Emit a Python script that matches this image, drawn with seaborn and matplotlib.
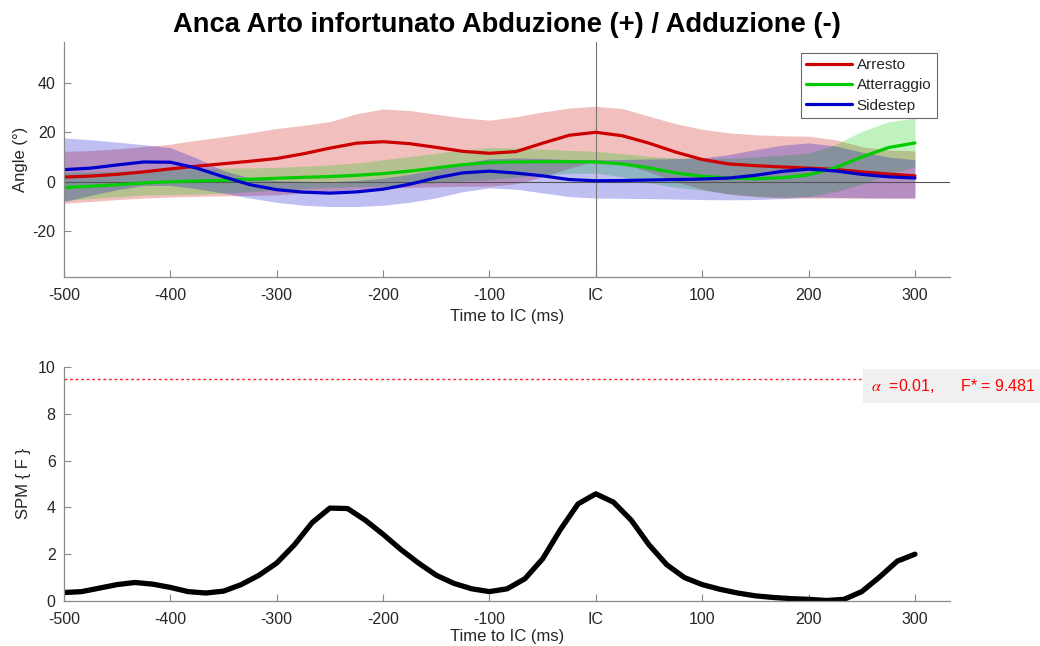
import numpy as np
import pandas as pd
import matplotlib
matplotlib.use("Agg")
import matplotlib.pyplot as plt
import seaborn as sns

# Time axis (ms relative to initial contact) for the angle curves
time_ms = list(range(-500, 301, 25))

# Arresto: mean and band limits (deg)
arresto_mean = [1.9, 2.3, 3.0, 4.0, 5.2, 6.3, 7.3, 8.3, 9.4, 11.3, 13.6, 15.6, 16.2,
                15.4, 13.9, 12.3, 11.5, 12.2, 15.6, 18.8, 20.0, 18.6, 15.6, 12.0, 9.0,
                7.2, 6.5, 6.0, 5.5, 5.0, 4.0, 3.1, 2.4]
arresto_upper = [12.3, 12.6, 13.3, 14.2, 15.2, 16.8, 18.2, 19.8, 21.5, 22.8, 24.3, 27.5,
                 29.4, 28.8, 27.3, 25.8, 24.9, 26.3, 28.2, 29.8, 30.5, 29.6, 26.5, 23.5,
                 21.2, 19.8, 19.0, 18.6, 18.4, 17.0, 14.2, 12.8, 12.5]
arresto_lower = [-8.7, -8.0, -7.2, -6.6, -6.2, -5.9, -5.7, -5.5, -5.3, -4.6, -3.8, -3.0,
                 -2.6, -2.3, -2.0, -1.8, -1.8, -0.8, 2.0, 5.5, 8.5, 7.5, 4.0, 0.0, -3.0,
                 -5.0, -6.0, -6.5, -6.6, -6.6, -6.6, -6.6, -6.6]

# Atterraggio
atterraggio_mean = [-2.3, -1.8, -1.2, -0.5, 0.0, 0.3, 0.6, 1.0, 1.4, 1.8, 2.1, 2.6, 3.3,
                    4.3, 5.6, 6.9, 7.8, 8.0, 8.1, 8.1, 8.0, 7.2, 5.6, 3.6, 2.2, 1.5, 1.2,
                    1.6, 2.8, 5.6, 10.0, 13.8, 15.7]
atterraggio_upper = [3.7, 4.0, 4.3, 4.7, 5.0, 5.3, 5.5, 5.6, 5.8, 6.3, 6.8, 7.6, 8.9, 10.2,
                     11.6, 12.9, 13.8, 13.7, 13.2, 12.7, 12.3, 11.4, 10.3, 9.6, 9.4, 9.5,
                     10.0, 10.8, 11.6, 15.0, 20.4, 24.2, 25.8]
atterraggio_lower = [-7.5, -6.8, -6.0, -5.4, -5.2, -5.0, -4.6, -4.0, -3.4, -2.8, -2.3, -2.0,
                     -1.8, -1.2, -0.4, 0.3, 0.8, 1.8, 2.8, 3.4, 3.5, 2.0, -0.5, -2.2, -3.4,
                     -4.8, -5.8, -6.1, -6.0, -4.0, -1.0, 3.0, 6.0]

# Sidestep
sidestep_mean = [4.9, 5.5, 6.8, 8.0, 7.9, 5.5, 2.0, -1.2, -3.2, -4.2, -4.6, -4.1, -3.0,
                 -1.0, 1.6, 3.6, 4.3, 3.5, 2.4, 0.9, 0.4, 0.5, 0.7, 0.9, 1.1, 1.5, 2.6,
                 4.2, 5.1, 4.4, 3.0, 2.0, 1.5]
sidestep_upper = [17.7, 17.0, 16.0, 15.0, 13.8, 9.5, 4.5, 1.5, 0.5, 0.2, 0.0, 0.5, 1.5, 3.0,
                  5.0, 7.5, 9.3, 9.6, 9.4, 9.0, 8.9, 9.0, 9.2, 9.4, 9.6, 11.0, 13.0, 14.8,
                  15.7, 14.5, 12.0, 10.0, 8.9]
sidestep_lower = [-8.0, -5.5, -3.2, -1.5, -1.5, -2.8, -4.6, -6.6, -8.3, -9.5, -10.0, -10.0,
                  -9.5, -8.3, -6.5, -4.0, -2.5, -3.0, -4.5, -6.0, -6.6, -6.7, -6.8, -7.0,
                  -7.2, -7.3, -7.2, -6.8, -6.2, -6.3, -6.5, -6.6, -6.6]

# SPM{F} statistic, 49 nodes from -500 to 300 ms
spm_time = np.linspace(-500, 300, 49)
spm_f = [0.36, 0.40, 0.55, 0.70, 0.79, 0.72, 0.58, 0.40, 0.34, 0.42, 0.70, 1.10, 1.62,
         2.40, 3.35, 3.97, 3.95, 3.45, 2.85, 2.20, 1.62, 1.10, 0.75, 0.52, 0.40, 0.52,
         0.95, 1.80, 3.05, 4.15, 4.58, 4.22, 3.45, 2.40, 1.55, 1.00, 0.70, 0.50, 0.34,
         0.22, 0.15, 0.10, 0.07, 0.02, 0.07, 0.40, 1.02, 1.70, 2.00]
alpha_level = 0.01
f_critical = 9.481

x_ticks = [-500, -400, -300, -200, -100, 0, 100, 200, 300]
x_tick_labels = ["-500", "-400", "-300", "-200", "-100", "IC", "100", "200", "300"]

series = [
    ("Arresto", arresto_mean, arresto_upper, arresto_lower, "#cc0000"),
    ("Atterraggio", atterraggio_mean, atterraggio_upper, atterraggio_lower, "#00cc00"),
    ("Sidestep", sidestep_mean, sidestep_upper, sidestep_lower, "#0000cc"),
]

sns.set_theme(style="white")
plt.rcParams["font.family"] = ["Liberation Sans", "DejaVu Sans"]
plt.rcParams["mathtext.fontset"] = "stix"
plt.rcParams["axes.unicode_minus"] = False

AX_COLOR = "#8a8a8a"
TXT_COLOR = "#262626"

fig = plt.figure(figsize=(10.4, 6.46), dpi=100)
ax1 = fig.add_axes([0.0615, 0.5712, 0.852, 0.3638])
ax2 = fig.add_axes([0.0615, 0.0697, 0.852, 0.3622])


def style_axis(ax, xlabel_pad):
    for side in ("top", "right"):
        ax.spines[side].set_visible(False)
    for side in ("left", "bottom"):
        ax.spines[side].set_color(AX_COLOR)
        ax.spines[side].set_linewidth(0.9)
    ax.tick_params(direction="in", length=5, width=0.8, color=AX_COLOR,
                   labelcolor=TXT_COLOR, labelsize=11.5, left=True, bottom=True)
    ax.tick_params(axis="x", pad=8)
    ax.tick_params(axis="y", pad=6)
    ax.set_xlim(-500, 333)
    ax.set_xticks(x_ticks)
    ax.set_xticklabels(x_tick_labels)
    ax.set_xlabel("Time to IC (ms)", fontsize=12, color=TXT_COLOR, labelpad=xlabel_pad)


# --- Upper panel: mean curves with variability bands ---
for name, mean, upper, lower, color in series:
    ax1.fill_between(time_ms, lower, upper, color=color, alpha=0.25, linewidth=0)
for name, mean, upper, lower, color in series:
    df = pd.DataFrame({"t": time_ms, "v": mean})
    sns.lineplot(data=df, x="t", y="v", ax=ax1, color=color, linewidth=2.3, label=name)

ax1.axhline(0, color="#555555", linewidth=0.8, zorder=1)
ax1.axvline(0, color="#777777", linewidth=0.8, zorder=1)
ax1.set_ylim(-38.5, 56.5)
ax1.set_yticks([-20, 0, 20, 40])
style_axis(ax1, 4)
ax1.set_ylabel("Angle (°)", fontsize=12, color=TXT_COLOR, labelpad=3)
ax1.set_title("Anca Arto infortunato Abduzione (+) / Adduzione (-)",
              fontsize=19.7, fontweight="bold", color="black", pad=7)

leg = ax1.legend(loc="upper right", bbox_to_anchor=(0.985, 0.955), fontsize=11,
                 frameon=True, fancybox=False, handlelength=3.0, handletextpad=0.3,
                 borderpad=0.35, labelspacing=0.42, borderaxespad=0)
leg.get_frame().set_edgecolor("#444444")
leg.get_frame().set_linewidth(0.8)
for t in leg.get_texts():
    t.set_color(TXT_COLOR)

# --- Lower panel: SPM{F} with critical threshold ---
spm_df = pd.DataFrame({"t": spm_time, "F": spm_f})
sns.lineplot(data=spm_df, x="t", y="F", ax=ax2, color="black", linewidth=3.8)
ax2.plot([-500, 300], [f_critical, f_critical], color="#ff2020",
         linestyle=(0, (2, 2)), linewidth=1.0)
ax2.set_ylim(0, 10)
ax2.set_yticks([0, 2, 4, 6, 8, 10])
style_axis(ax2, 1.5)
ax2.set_ylabel("SPM { F }", fontsize=12, color=TXT_COLOR, labelpad=5)
ax2.text(259, 9.19, f"$\\alpha$  ={alpha_level},      F* = {f_critical}",
         color="#ff0000", fontsize=11.5, ha="left", va="center", clip_on=False,
         bbox=dict(facecolor="#f0f0f0", edgecolor="none", pad=6))

fig.savefig("out.png", dpi=100)
